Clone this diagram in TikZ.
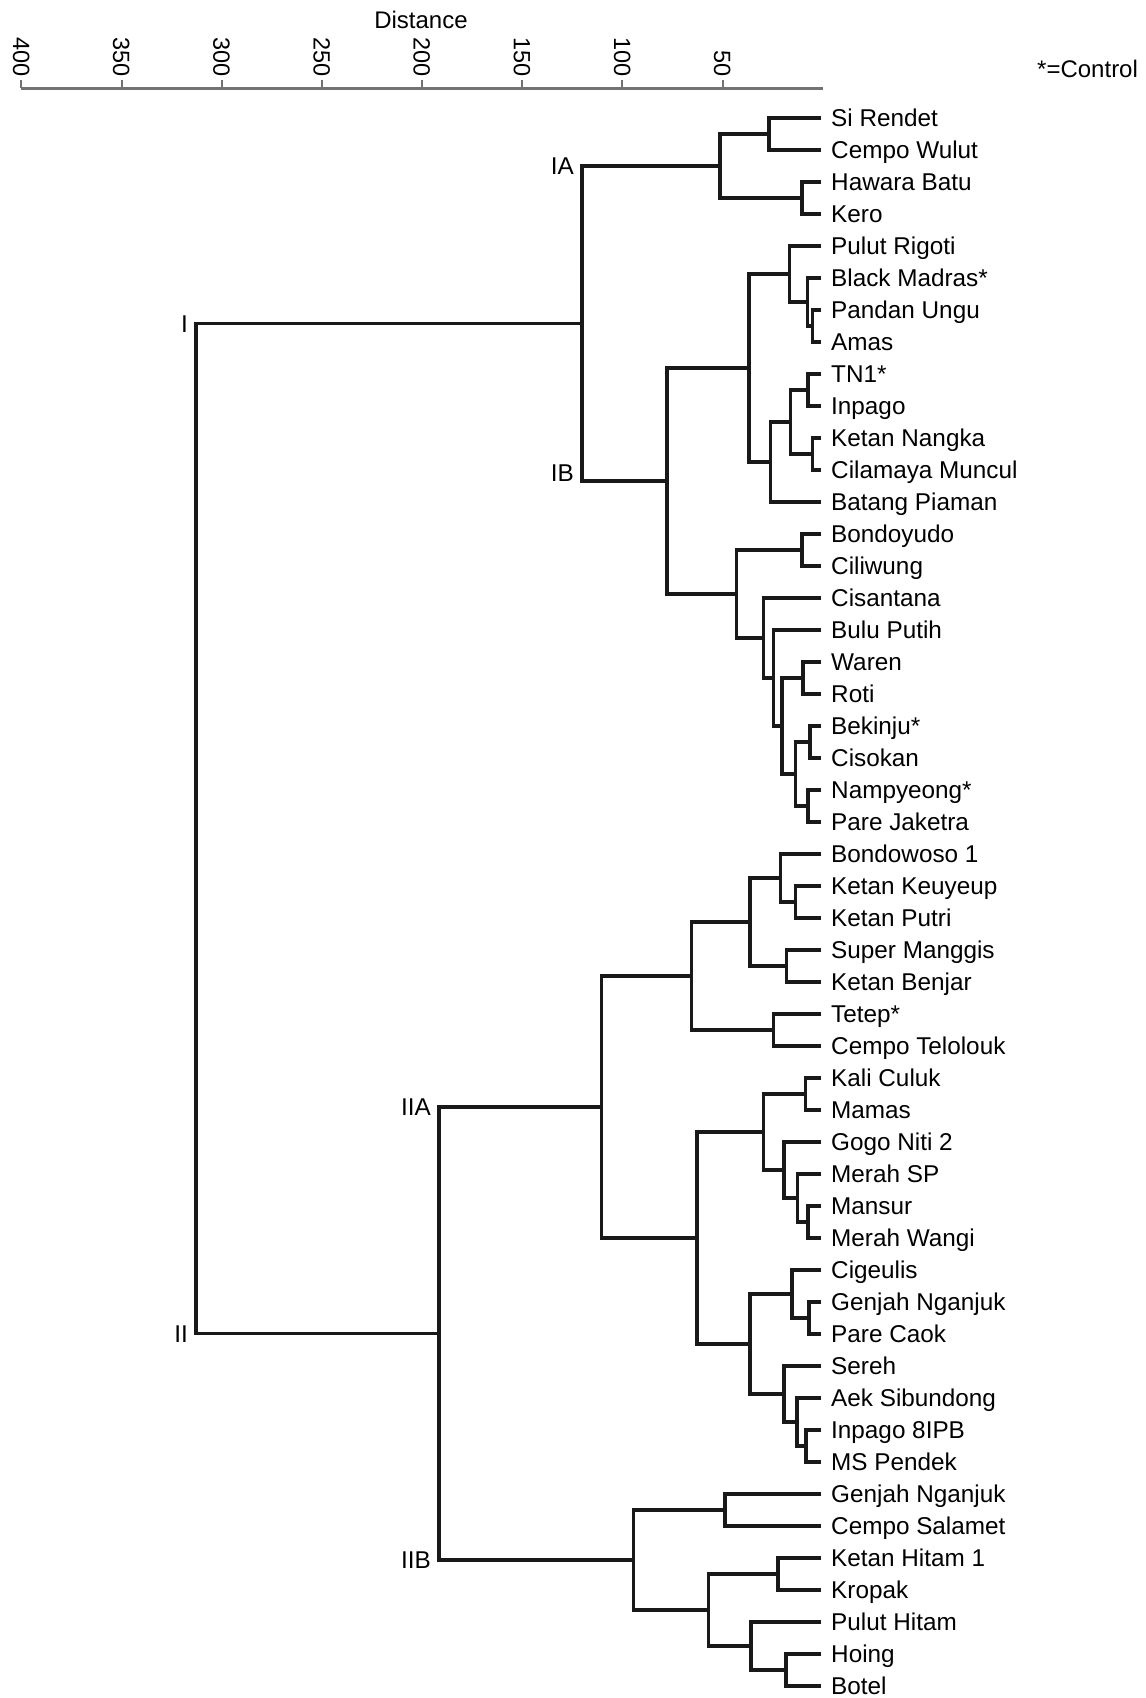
\documentclass[tikz,border=0pt]{standalone}
\usepackage{fontspec}
\setmainfont{Liberation Sans}
\begin{document}
\begin{tikzpicture}[x=1pt,y=-1pt,
  br/.style={draw=black!90, line width=3.2pt, line join=miter},
  leaf/.style={anchor=west, inner xsep=10pt, inner ysep=0pt, text height=17.3pt, text depth=0pt, font=\fontsize{24.3}{28}\selectfont},
  clab/.style={anchor=east, inner xsep=8pt, inner ysep=0pt, text height=17.3pt, text depth=0pt, font=\fontsize{24.3}{28}\selectfont},
  axisline/.style={draw=black!55, line width=2.4pt},
  num/.style={rotate=-90, anchor=east, inner sep=0pt, text height=16.8pt, text depth=0pt, font=\fontsize{23.5}{28}\selectfont},
  ttl/.style={inner sep=0pt, text height=17.2pt, text depth=0pt, font=\fontsize{24}{28}\selectfont}]
\fill[white] (0,0) rectangle (1146,1698);
\useasboundingbox (0,0) rectangle (1146,1698);

% axis
\coordinate (a0) at (822.7,88.3);
\coordinate (a400) at (21,88.3);
\draw[axisline] (a400) -- (a0);
\foreach \d in {50,100,...,400} {
  \coordinate (t\d) at ({822.7-2.003*\d},88.3);
  \draw[axisline, line width=2pt] (t\d) -- ++(0,-8);
  \node[num] (n\d) at ({822.7-2.003*\d},77) {\d};
}
\node[ttl] (dist) at (421,19.5) {Distance};
\node[ttl, anchor=west] (ctrl) at (1037,69) {*=Control};

% leaves
\foreach \t [count=\i] in {Si Rendet, Cempo Wulut, Hawara Batu, Kero, Pulut Rigoti,
  Black Madras*, Pandan Ungu, Amas, TN1*, Inpago, Ketan Nangka, Cilamaya Muncul,
  Batang Piaman, Bondoyudo, Ciliwung, Cisantana, Bulu Putih, Waren, Roti, Bekinju*,
  Cisokan, Nampyeong*, Pare Jaketra, Bondowoso 1, Ketan Keuyeup, Ketan Putri,
  Super Manggis, Ketan Benjar, Tetep*, Cempo Telolouk, Kali Culuk, Mamas, Gogo Niti 2,
  Merah SP, Mansur, Merah Wangi, Cigeulis, Genjah Nganjuk, Pare Caok, Sereh,
  Aek Sibundong, Inpago 8IPB, MS Pendek, Genjah Nganjuk, Cempo Salamet, Ketan Hitam 1,
  Kropak, Pulut Hitam, Hoing, Botel} {
  \node[leaf] (l\i) at (821,{118+32*(\i-1)}) {\t};
}

% internal nodes
\coordinate (sc) at (769,134);
\coordinate (hk) at (802,198);
\coordinate (ia) at (720,166);
\coordinate (pa) at (812.5,326);
\coordinate (bm) at (807.5,302);
\coordinate (pr) at (789.5,274);
\coordinate (ti) at (808,390);
\coordinate (kc) at (812.5,454);
\coordinate (tk) at (790.5,422);
\coordinate (tb) at (770.5,462);
\coordinate (xa) at (749,368);
\coordinate (bc) at (802,550);
\coordinate (bkc) at (810,742);
\coordinate (np) at (808,806);
\coordinate (dd) at (795.5,774);
\coordinate (wr) at (803,678);
\coordinate (cc) at (782,726);
\coordinate (bb) at (773.5,678);
\coordinate (aa) at (763.5,638);
\coordinate (xb) at (736.5,594);
\coordinate (ib) at (667,481);
\coordinate (nI) at (582,323.5);
\coordinate (kk) at (795.5,902);
\coordinate (bw) at (780.5,878);
\coordinate (sb) at (786.5,966);
\coordinate (ee) at (750,922);
\coordinate (tc) at (773.5,1030);
\coordinate (gg) at (691.5,976);
\coordinate (km) at (805.5,1094);
\coordinate (mw) at (808,1222);
\coordinate (ms) at (797.5,1198);
\coordinate (gn) at (784,1170);
\coordinate (hh) at (763.5,1132);
\coordinate (gp) at (809,1318);
\coordinate (cg) at (792,1294);
\coordinate (im) at (806,1446);
\coordinate (asb) at (797,1422);
\coordinate (sr) at (784,1394);
\coordinate (jj) at (750,1344);
\coordinate (ff) at (697,1238);
\coordinate (iia) at (601.5,1107);
\coordinate (gc) at (725,1510);
\coordinate (kh) at (778,1574);
\coordinate (hb) at (786,1670);
\coordinate (ph) at (751,1646);
\coordinate (kq) at (708.5,1610);
\coordinate (iib) at (633.5,1560);
\coordinate (nII) at (439,1333.5);
\coordinate (root) at (196,828.5);

% branches
\draw[br] (l1.west) -| (sc) |- (l2.west);
\draw[br] (l3.west) -| (hk) |- (l4.west);
\draw[br] (sc) -| (ia) |- (hk);
\draw[br] (l7.west) -| (pa) |- (l8.west);
\draw[br] (l6.west) -| (bm) |- (pa);
\draw[br] (l5.west) -| (pr) |- (bm);
\draw[br] (l9.west) -| (ti) |- (l10.west);
\draw[br] (l11.west) -| (kc) |- (l12.west);
\draw[br] (ti) -| (tk) |- (kc);
\draw[br] (tk) -| (tb) |- (l13.west);
\draw[br] (pr) -| (xa) |- (tb);
\draw[br] (l14.west) -| (bc) |- (l15.west);
\draw[br] (l20.west) -| (bkc) |- (l21.west);
\draw[br] (l22.west) -| (np) |- (l23.west);
\draw[br] (bkc) -| (dd) |- (np);
\draw[br] (l18.west) -| (wr) |- (l19.west);
\draw[br] (wr) -| (cc) |- (dd);
\draw[br] (l17.west) -| (bb) |- (cc);
\draw[br] (l16.west) -| (aa) |- (bb);
\draw[br] (bc) -| (xb) |- (aa);
\draw[br] (xa) -| (ib) |- (xb);
\draw[br] (ia) -| (nI) |- (ib);
\draw[br] (l25.west) -| (kk) |- (l26.west);
\draw[br] (l24.west) -| (bw) |- (kk);
\draw[br] (l27.west) -| (sb) |- (l28.west);
\draw[br] (bw) -| (ee) |- (sb);
\draw[br] (l29.west) -| (tc) |- (l30.west);
\draw[br] (ee) -| (gg) |- (tc);
\draw[br] (l31.west) -| (km) |- (l32.west);
\draw[br] (l35.west) -| (mw) |- (l36.west);
\draw[br] (l34.west) -| (ms) |- (mw);
\draw[br] (l33.west) -| (gn) |- (ms);
\draw[br] (km) -| (hh) |- (gn);
\draw[br] (l38.west) -| (gp) |- (l39.west);
\draw[br] (l37.west) -| (cg) |- (gp);
\draw[br] (l42.west) -| (im) |- (l43.west);
\draw[br] (l41.west) -| (asb) |- (im);
\draw[br] (l40.west) -| (sr) |- (asb);
\draw[br] (cg) -| (jj) |- (sr);
\draw[br] (hh) -| (ff) |- (jj);
\draw[br] (gg) -| (iia) |- (ff);
\draw[br] (l44.west) -| (gc) |- (l45.west);
\draw[br] (l46.west) -| (kh) |- (l47.west);
\draw[br] (l49.west) -| (hb) |- (l50.west);
\draw[br] (l48.west) -| (ph) |- (hb);
\draw[br] (kh) -| (kq) |- (ph);
\draw[br] (gc) -| (iib) |- (kq);
\draw[br] (iia) -| (nII) |- (iib);
\draw[br] (nI) -| (root) |- (nII);

% cluster labels
\node[clab] (tI) at (root |- nI) {I};
\node[clab] (tII) at (root |- nII) {II};
\node[clab] (tIA) at (nI |- ia) {IA};
\node[clab, yshift=8pt] (tIB) at (nI |- ib) {IB};
\node[clab] (tIIA) at (nII |- iia) {IIA};
\node[clab] (tIIB) at (nII |- iib) {IIB};
\end{tikzpicture}
\end{document}
